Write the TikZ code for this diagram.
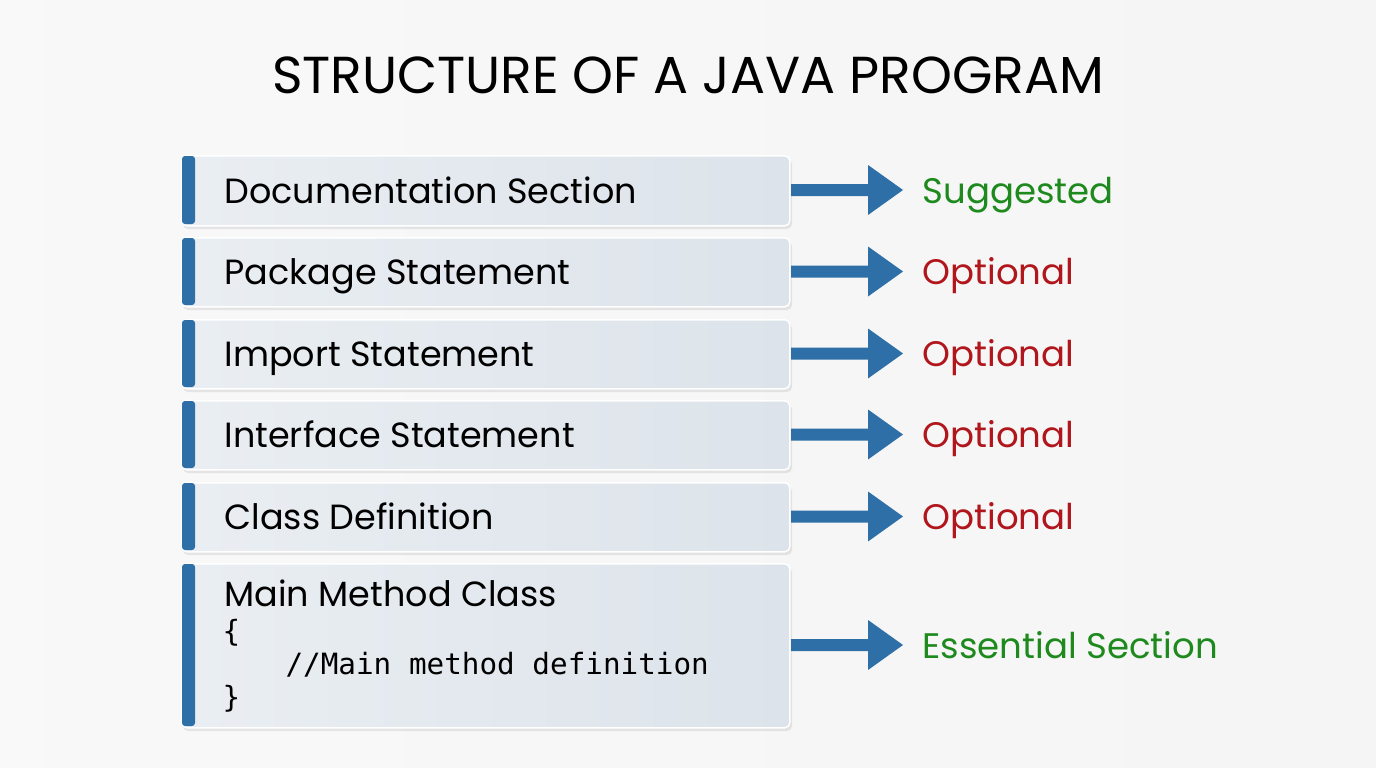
\documentclass[tikz,border=0pt]{standalone}
\usepackage{fontspec}
\setmainfont{Poppins}
\newfontfamily\codefont{DejaVu Sans Mono}
\definecolor{barblue}{HTML}{2E6FA7}
\definecolor{boxfill}{HTML}{DCE3EA}
\definecolor{okgreen}{HTML}{1E8A1E}
\definecolor{optred}{HTML}{B0161C}
\begin{document}
\begin{tikzpicture}[x=1pt,y=-1pt,
  rowbox/.style={draw=white,line width=1.5pt,rounded corners=5pt,left color=boxfill!60!white,right color=boxfill,anchor=north west,minimum width=608pt,inner sep=0pt},
  rowtxt/.style={anchor=base west,font=\fontsize{35}{40}\selectfont,text=black},
  lbl/.style={anchor=base west,font=\fontsize{35.5}{40}\selectfont},
  code/.style={anchor=base west,font=\codefont\fontsize{29.3}{32}\selectfont},
  bigarrow/.style={fill=barblue,draw=none}]
\fill[left color=white!95!gray,right color=white!92!gray] (0,0) rectangle (1376,768);
\useasboundingbox (0,0) rectangle (1376,768);
\node[anchor=base] (title) at (688,93) {\fontsize{52}{56}\selectfont STRUCTURE OF A JAVA PROGRAM};
\foreach \n/\t/\b/\txt/\lab/\col in {
 r1/155/225/Documentation Section/Suggested/okgreen,
 r2/237/306/Package Statement/Optional/optred,
 r3/319/388/Import Statement/Optional/optred,
 r4/400/469/Interface Statement/Optional/optred,
 r5/482/551/Class Definition/Optional/optred}{
 \fill[black,opacity=0.08,rounded corners=5pt] (183,\t+4) rectangle (792,\b+4);
 \node[rowbox,minimum height={\b-\t}] (\n) at (181,\t) {};
 \fill[barblue,rounded corners=3pt] (182,\t+1) rectangle (195,\b-1);
 \node[rowtxt] (\n t) at (221,{(\t+\b)/2+13}) {\txt};
 \coordinate (\n a) at (791,{(\t+\b)/2});
 \fill[bigarrow] (\n a) ++(0,-6) -- +(77,0) -- +(77,-19) -- +(112,6) -- +(77,31) -- +(77,12) -- +(0,12) -- cycle;
 \node[lbl,text=\col] (\n l) at (919,{(\t+\b)/2+13}) {\lab};
}
\fill[black,opacity=0.08,rounded corners=5pt] (183,567) rectangle (792,731);
\node[rowbox,minimum height=164pt] (r6) at (181,563) {};
\fill[barblue,rounded corners=3pt] (182,564) rectangle (195,726);
\node[rowtxt] (r6t) at (221,606) {Main Method Class};
\node[code] (c1) at (219,641) {\{};
\node[code] (c2) at (282,674) {//Main method definition};
\node[code] (c3) at (219,707) {\}};
\coordinate (r6a) at (791,645);
\fill[bigarrow] (r6a) ++(0,-6) -- +(77,0) -- +(77,-19) -- +(112,6) -- +(77,31) -- +(77,12) -- +(0,12) -- cycle;
\node[lbl,text=okgreen] (r6l) at (919,658) {Essential Section};
\end{tikzpicture}
\end{document}
